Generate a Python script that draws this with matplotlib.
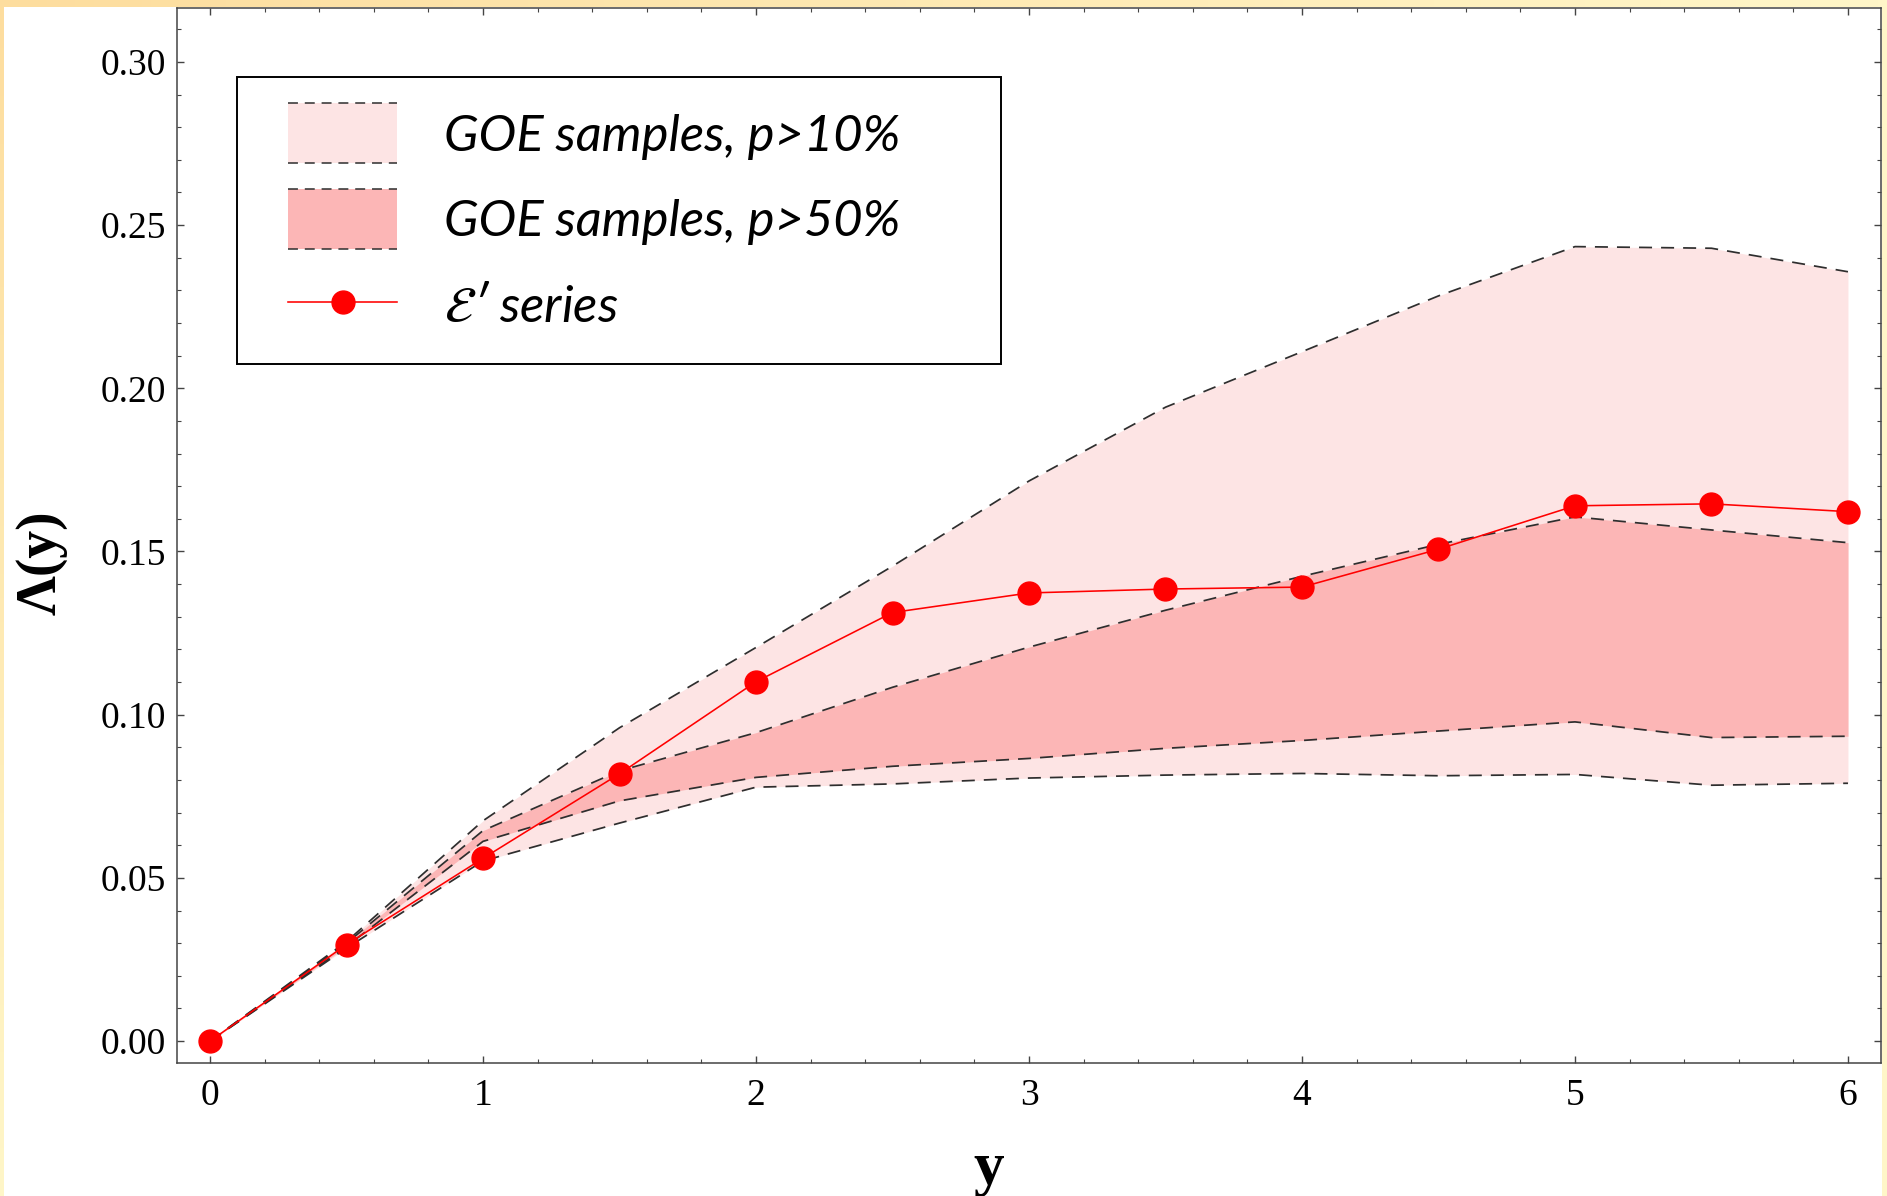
import numpy as np
import matplotlib
matplotlib.use("Agg")
import matplotlib.pyplot as plt
from matplotlib.patches import Rectangle, Patch
from matplotlib.lines import Line2D
from matplotlib.legend_handler import HandlerBase, HandlerLine2D
from matplotlib.ticker import MultipleLocator, FormatStrFormatter

# data
y_vals = [0, 0.5, 1, 1.5, 2, 2.5, 3, 3.5, 4, 4.5, 5, 5.5, 6]
e_series = [0, 0.0296, 0.0560, 0.0819, 0.1101, 0.1313, 0.1373, 0.1385, 0.1391,
            0.1507, 0.1640, 0.1646, 0.1622]
p10_upper = [0, 0.0305, 0.0675, 0.0960, 0.1206, 0.1455, 0.1716, 0.1942, 0.2112,
             0.2283, 0.2434, 0.2429, 0.2357]
p50_upper = [0, 0.0300, 0.0645, 0.0828, 0.0945, 0.1084, 0.1207, 0.1320, 0.1424,
             0.1522, 0.1606, 0.1566, 0.1527]
p50_lower = [0, 0.0290, 0.0612, 0.0736, 0.0808, 0.0842, 0.0866, 0.0897, 0.0921,
             0.0950, 0.0978, 0.0930, 0.0934]
p10_lower = [0, 0.0285, 0.0552, 0.0668, 0.0778, 0.0788, 0.0806, 0.0815, 0.0820,
             0.0813, 0.0817, 0.0784, 0.0790]

labels = ["GOE samples, p>10%", "GOE samples, p>50%", r"$\mathcal{E}$′ series"]

light_pink = "#fde4e4"
mid_pink = "#fcb6b6"
dash_col = "#2e2e2e"
dash_lw = 1.25
dash_style = (0, (7.5, 5.2))

plt.rcParams["mathtext.fontset"] = "stix"

W, H = 1887, 1196
fig = plt.figure(figsize=(W / 100, H / 100), dpi=100)

# yellowish frame around the picture
bg = fig.add_axes([0, 0, 1, 1], zorder=-10)
bg.axis("off")
gx, gy = np.meshgrid(np.linspace(0, 1, 200), np.linspace(1, 0, 200))
t = (1 - gx) * gy
c1 = np.array([253, 221, 158]) / 255
c2 = np.array([255, 246, 200]) / 255
img = c2[None, None, :] * (1 - t[..., None]) + c1[None, None, :] * t[..., None]
bg.imshow(img, extent=[0, 1, 0, 1], aspect="auto")
bg.add_patch(Rectangle((4 / W, 0), (1882 - 4) / W, (H - 7) / H, facecolor="white",
                       edgecolor="none", transform=bg.transAxes))
bg.set_xlim(0, 1)
bg.set_ylim(0, 1)

ax = fig.add_axes([177 / W, (H - 1063) / H, (1881 - 177) / W, (1063 - 8) / H])
ax.set_facecolor("white")

ax.fill_between(y_vals, p10_lower, p10_upper, color=light_pink, lw=0, zorder=1)
ax.fill_between(y_vals, p50_lower, p50_upper, color=mid_pink, lw=0, zorder=2)
for band in [p10_upper, p50_upper, p50_lower, p10_lower]:
    ax.plot(y_vals, band, color=dash_col, lw=dash_lw, ls=dash_style, zorder=3)
ax.plot(y_vals, e_series, color="#ff0000", lw=1.15, marker="o", ms=16.5,
        mec="#ff0000", mfc="#ff0000", zorder=5, clip_on=False)

ax.set_xlim(-0.121, 6.121)
ax.set_ylim(-0.0067, 0.3165)
ax.xaxis.set_major_locator(MultipleLocator(1))
ax.xaxis.set_minor_locator(MultipleLocator(0.2))
ax.yaxis.set_major_locator(MultipleLocator(0.05))
ax.yaxis.set_minor_locator(MultipleLocator(0.01))
ax.yaxis.set_major_formatter(FormatStrFormatter("%.2f"))
ax.xaxis.set_major_formatter(FormatStrFormatter("%d"))

for s in ax.spines.values():
    s.set_color("#444444")
    s.set_linewidth(1.1)
ax.tick_params(which="both", direction="in", top=True, right=True, color="#444444")
ax.tick_params(which="major", length=4.8, width=1.0)
ax.tick_params(which="minor", length=2.8, width=0.8)
ax.tick_params(axis="y", which="major", pad=8, labelsize=27)
ax.tick_params(axis="x", which="major", pad=11, labelsize=27)
for lab in ax.get_xticklabels() + ax.get_yticklabels():
    lab.set_family("Liberation Serif")

ax.set_xlabel("y", family="Liberation Serif", weight="bold", fontsize=44, va="top")
ax.xaxis.set_label_coords(0.4765, -0.074)
ax.set_ylabel(r"Λ(y)", family="Liberation Serif", weight="bold", fontsize=40,
              va="center")
ax.yaxis.set_label_coords(-0.0792, 0.474)


class BandHandler(HandlerBase):
    def create_artists(self, legend, orig_handle, xdescent, ydescent, width, height,
                       fontsize, trans):
        extra = height * 0.16
        x0, y0 = -xdescent, -ydescent - extra
        h = height + 2 * extra
        rect = Rectangle((x0, y0), width, h, facecolor=orig_handle.get_facecolor(),
                         edgecolor="none", transform=trans)
        top = Line2D([x0, x0 + width], [y0 + h, y0 + h], color=dash_col, lw=1.1,
                     ls=(0, (6.5, 4.5)), transform=trans)
        bot = Line2D([x0, x0 + width], [y0, y0], color=dash_col, lw=1.1,
                     ls=(0, (6.5, 4.5)), transform=trans)
        return [rect, top, bot]


h10 = Patch(facecolor=light_pink)
h50 = Patch(facecolor=mid_pink)
hser = Line2D([], [], color="#ff0000", lw=1.15, marker="o", ms=16.5)
leg_fs = 36.5
frame_top = 77
leg = ax.legend([h10, h50, hser], labels, loc="upper left",
                bbox_to_anchor=(0.0352, (1063 - frame_top) / 1055 - 0.3, 0.4484, 0.3),
                mode="expand", borderaxespad=0, numpoints=1,
                handler_map={h10: BandHandler(xpad=0.355), h50: BandHandler(xpad=0.355),
                             hser: HandlerLine2D(xpad=0.355)},
                prop={"family": ["Lato", "DejaVu Sans"], "style": "italic", "size": leg_fs},
                handlelength=2.5, handleheight=1.0, labelspacing=0.72,
                handletextpad=0.93, borderpad=0.66, fancybox=False, framealpha=1,
                edgecolor="black")
leg.get_frame().set_linewidth(1.4)
leg.set_zorder(10)

fig.savefig("out.png", dpi=100)
